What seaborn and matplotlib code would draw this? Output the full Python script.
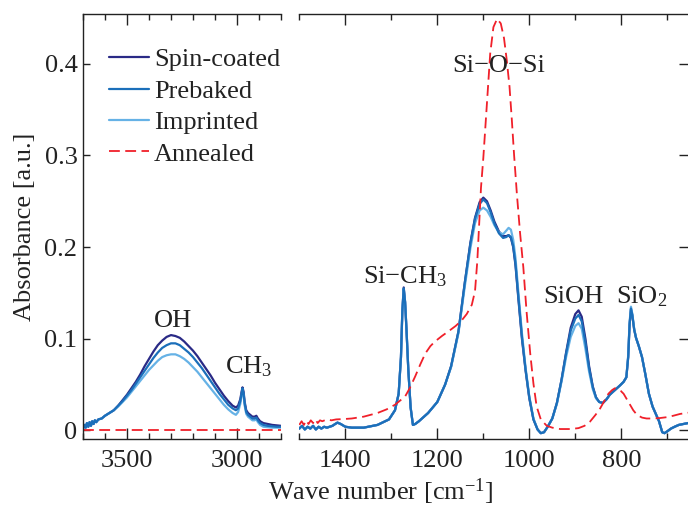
import matplotlib
matplotlib.use('Agg')
import matplotlib.pyplot as plt
import seaborn as sns
from matplotlib.ticker import MultipleLocator, FixedLocator

# ---------------- data ----------------
labels = ['Spin-coated', 'Prebaked', 'Imprinted', 'Annealed']
colors = {'Spin-coated': '#2a2a86', 'Prebaked': '#1b6fba',
          'Imprinted': '#66b2e6', 'Annealed': '#f0202a'}

# left panel (OH / CH3 region)
wn_oh = [3700, 3694, 3688, 3682, 3676, 3670, 3664, 3658, 3652, 3646,
         3640, 3630, 3615, 3600, 3580, 3560, 3540, 3520, 3500, 3480,
         3460, 3440, 3420, 3400, 3380, 3360, 3340, 3320, 3300, 3280,
         3260, 3240, 3220, 3200, 3180, 3160, 3140, 3120, 3100, 3080,
         3060, 3040, 3020, 3005, 2995, 2985, 2980, 2975, 2970, 2965,
         2958, 2950, 2940, 2930, 2920, 2912, 2905, 2895, 2880, 2860,
         2840, 2820, 2800]
spin_oh = [0.002, 0.006, 0.003, 0.008, 0.004, 0.009, 0.005, 0.010, 0.007, 0.011,
           0.009, 0.012, 0.013, 0.016, 0.019, 0.022, 0.027, 0.033, 0.039, 0.046,
           0.053, 0.061, 0.070, 0.078, 0.086, 0.093, 0.098, 0.102, 0.104, 0.103,
           0.101, 0.097, 0.092, 0.087, 0.081, 0.074, 0.067, 0.060, 0.052, 0.045,
           0.038, 0.032, 0.027, 0.025, 0.027, 0.034, 0.041, 0.047, 0.042, 0.031,
           0.022, 0.019, 0.017, 0.015, 0.015, 0.016, 0.013, 0.010, 0.008, 0.007,
           0.006, 0.0055, 0.005]
pre_oh = [0.002, 0.006, 0.003, 0.008, 0.004, 0.009, 0.005, 0.010, 0.007, 0.011,
          0.009, 0.012, 0.013, 0.016, 0.019, 0.022, 0.027, 0.032, 0.038, 0.044,
          0.051, 0.058, 0.065, 0.072, 0.079, 0.085, 0.090, 0.093, 0.095, 0.095,
          0.093, 0.089, 0.085, 0.080, 0.074, 0.068, 0.061, 0.054, 0.047, 0.040,
          0.034, 0.028, 0.024, 0.022, 0.024, 0.032, 0.039, 0.046, 0.040, 0.029,
          0.020, 0.017, 0.015, 0.013, 0.013, 0.014, 0.011, 0.008, 0.006, 0.005,
          0.0045, 0.004, 0.004]
imp_oh = [0.002, 0.006, 0.003, 0.008, 0.004, 0.009, 0.005, 0.010, 0.007, 0.011,
          0.009, 0.012, 0.013, 0.016, 0.019, 0.022, 0.026, 0.031, 0.036, 0.042,
          0.048, 0.054, 0.060, 0.066, 0.071, 0.076, 0.080, 0.082, 0.083, 0.083,
          0.081, 0.078, 0.074, 0.069, 0.064, 0.058, 0.052, 0.046, 0.040, 0.034,
          0.028, 0.023, 0.019, 0.017, 0.020, 0.029, 0.037, 0.044, 0.038, 0.027,
          0.018, 0.015, 0.013, 0.011, 0.011, 0.012, 0.009, 0.006, 0.004, 0.0035,
          0.003, 0.003, 0.003]
wn_oh_ann = [3700, 2800]
ann_oh = [0.0, 0.0]

# right panel (fingerprint region)
wn_si = [1500, 1494, 1488, 1482, 1476, 1470, 1464, 1458, 1452, 1446,
         1440, 1434, 1428, 1422, 1417, 1410, 1400, 1386, 1360, 1330,
         1305, 1292, 1284, 1279, 1276, 1273, 1270, 1267, 1263, 1258,
         1253, 1248, 1240, 1220, 1200, 1183, 1170, 1154, 1140, 1128,
         1118, 1108, 1100, 1092, 1084, 1076, 1066, 1057, 1050, 1045,
         1040, 1035, 1030, 1024, 1016, 1008, 1000, 991, 982, 975,
         968, 960, 950, 940, 930, 920, 910, 900, 893, 886,
         878, 870, 862, 855, 848, 840, 832, 825, 814, 803,
         795, 789, 785, 782, 779, 776, 772, 768, 762, 755,
         748, 740, 732, 725, 718, 711, 706, 700, 692, 684,
         675, 665, 655, 645]
spin_si = [0.002, 0.005, 0.001, 0.004, 0.002, 0.005, 0.001, 0.004, 0.002, 0.004,
           0.003, 0.004, 0.005, 0.007, 0.0085, 0.007, 0.004, 0.003, 0.003, 0.006,
           0.012, 0.022, 0.040, 0.080, 0.130, 0.156, 0.140, 0.110, 0.066, 0.025,
           0.006, 0.007, 0.010, 0.019, 0.031, 0.050, 0.070, 0.108, 0.162, 0.205,
           0.232, 0.249, 0.254, 0.250, 0.240, 0.228, 0.217, 0.212, 0.212, 0.213,
           0.210, 0.200, 0.180, 0.145, 0.100, 0.065, 0.035, 0.012, 0.001, -0.003,
           -0.002, 0.004, 0.013, 0.030, 0.055, 0.085, 0.112, 0.127, 0.131, 0.124,
           0.100, 0.070, 0.048, 0.036, 0.031, 0.030, 0.034, 0.039, 0.044, 0.049,
           0.053, 0.058, 0.080, 0.115, 0.132, 0.125, 0.110, 0.101, 0.092, 0.080,
           0.062, 0.040, 0.026, 0.018, 0.010, -0.002, -0.003, -0.001, 0.002, 0.004,
           0.006, 0.007, 0.008, 0.009]
pre_si = [0.002, 0.005, 0.001, 0.004, 0.002, 0.005, 0.001, 0.004, 0.002, 0.004,
          0.003, 0.004, 0.005, 0.007, 0.0085, 0.007, 0.004, 0.003, 0.003, 0.006,
          0.012, 0.022, 0.040, 0.080, 0.130, 0.155, 0.140, 0.110, 0.066, 0.025,
          0.006, 0.007, 0.010, 0.019, 0.031, 0.050, 0.070, 0.108, 0.162, 0.204,
          0.231, 0.247, 0.252, 0.248, 0.238, 0.226, 0.215, 0.210, 0.211, 0.213,
          0.211, 0.201, 0.182, 0.147, 0.102, 0.066, 0.036, 0.012, 0.001, -0.003,
          -0.002, 0.004, 0.013, 0.030, 0.055, 0.084, 0.109, 0.122, 0.126, 0.119,
          0.096, 0.068, 0.047, 0.036, 0.031, 0.030, 0.034, 0.039, 0.044, 0.049,
          0.053, 0.058, 0.080, 0.116, 0.133, 0.126, 0.110, 0.101, 0.092, 0.080,
          0.062, 0.040, 0.026, 0.018, 0.010, -0.002, -0.003, -0.001, 0.002, 0.004,
          0.006, 0.007, 0.008, 0.009]
imp_si = [0.002, 0.005, 0.001, 0.004, 0.002, 0.005, 0.001, 0.004, 0.002, 0.004,
          0.003, 0.004, 0.005, 0.007, 0.0085, 0.007, 0.004, 0.003, 0.003, 0.006,
          0.012, 0.022, 0.040, 0.080, 0.130, 0.154, 0.140, 0.110, 0.066, 0.025,
          0.006, 0.007, 0.010, 0.019, 0.031, 0.050, 0.069, 0.106, 0.158, 0.199,
          0.226, 0.240, 0.243, 0.240, 0.233, 0.224, 0.216, 0.214, 0.218, 0.221,
          0.219, 0.208, 0.188, 0.152, 0.106, 0.068, 0.037, 0.013, 0.001, -0.003,
          -0.002, 0.004, 0.013, 0.029, 0.053, 0.080, 0.102, 0.114, 0.117, 0.111,
          0.089, 0.064, 0.045, 0.035, 0.031, 0.030, 0.034, 0.039, 0.044, 0.049,
          0.053, 0.058, 0.082, 0.118, 0.135, 0.127, 0.111, 0.101, 0.092, 0.080,
          0.062, 0.040, 0.026, 0.018, 0.010, -0.002, -0.003, -0.001, 0.002, 0.004,
          0.006, 0.007, 0.008, 0.009]
wn_ann = [1500, 1495, 1490, 1485, 1480, 1475, 1470, 1465, 1460, 1455,
          1450, 1440, 1430, 1420, 1400, 1386, 1360, 1330, 1310, 1292,
          1270, 1260, 1248, 1237, 1226, 1215, 1205, 1190, 1176, 1160,
          1147, 1136, 1125, 1118, 1113, 1109, 1105, 1100, 1093, 1085,
          1078, 1070, 1062, 1055, 1049, 1043, 1038, 1033, 1027, 1020,
          1013, 1006, 998, 991, 984, 975, 962, 950, 933, 910,
          893, 880, 868, 856, 846, 837, 828, 820, 814, 808,
          801, 795, 788, 781, 774, 766, 755, 745, 730, 716,
          700, 687, 672, 658, 645]
ann_si = [0.006, 0.010, 0.006, 0.011, 0.007, 0.011, 0.008, 0.012, 0.008, 0.011,
          0.010, 0.012, 0.011, 0.012, 0.0125, 0.013, 0.015, 0.019, 0.023, 0.028,
          0.037, 0.046, 0.059, 0.072, 0.084, 0.092, 0.097, 0.103, 0.108, 0.114,
          0.120, 0.127, 0.137, 0.152, 0.185, 0.225, 0.265, 0.297, 0.350, 0.411,
          0.440, 0.449, 0.444, 0.428, 0.404, 0.375, 0.339, 0.300, 0.258, 0.215,
          0.178, 0.130, 0.084, 0.051, 0.026, 0.012, 0.005, 0.003, 0.0015, 0.0015,
          0.0025, 0.005, 0.0096, 0.017, 0.024, 0.032, 0.040, 0.044, 0.046, 0.045,
          0.043, 0.040, 0.034, 0.028, 0.022, 0.017, 0.014, 0.013, 0.013, 0.0135,
          0.0145, 0.016, 0.018, 0.019, 0.020]

y_ticks = [0.0, 0.1, 0.2, 0.3, 0.4]
y_tick_labels = ['0', '0.1', '0.2', '0.3', '0.4']
x1_major = [3500, 3000]
x2_major = [1400, 1200, 1000, 800]

# ---------------- style ----------------
sns.set_theme(style='ticks')
plt.rcParams['font.family'] = ['Liberation Serif', 'DejaVu Serif']
plt.rcParams['mathtext.fontset'] = 'custom'
plt.rcParams['mathtext.rm'] = 'Liberation Serif'
plt.rcParams['mathtext.it'] = 'Liberation Serif:italic'
plt.rcParams['mathtext.bf'] = 'Liberation Serif:bold'
plt.rcParams['axes.linewidth'] = 1.0
plt.rcParams['axes.edgecolor'] = '#222222'
plt.rcParams['xtick.color'] = '#222222'
plt.rcParams['ytick.color'] = '#222222'
TXT = '#222222'
FS = 19

W, H = 688, 509
fig = plt.figure(figsize=(W / 100, H / 100), dpi=100)


def box(x0, y0, x1, y1):
    return [x0 / W, 1 - y1 / H, (x1 - x0) / W, (y1 - y0) / H]


ax1 = fig.add_axes(box(83, 14.3, 281, 439.3))
ax2 = fig.add_axes(box(299.3, 14.3, 299.3 + 850 * 0.46, 439.3))

LW_BLUE = 1.6
LW_RED = 1.3

blue_sets = [('Spin-coated', spin_oh, spin_si),
             ('Imprinted', imp_oh, imp_si),
             ('Prebaked', pre_oh, pre_si)]
for name, y_oh, y_si in blue_sets:
    sns.lineplot(x=wn_oh, y=y_oh, ax=ax1, color=colors[name], lw=LW_BLUE,
                 sort=False, estimator=None, label=name)
    sns.lineplot(x=wn_si, y=y_si, ax=ax2, color=colors[name], lw=LW_BLUE,
                 sort=False, estimator=None, legend=False)

sns.lineplot(x=wn_oh_ann, y=ann_oh, ax=ax1, color=colors['Annealed'], lw=LW_RED,
             sort=False, estimator=None, label='Annealed')
ax1.lines[-1].set_dashes([6, 3])
sns.lineplot(x=wn_ann, y=ann_si, ax=ax2, color=colors['Annealed'], lw=LW_RED,
             sort=False, estimator=None, legend=False)
ax2.lines[-1].set_dashes([6, 3])

# ---------------- axes ----------------
YLIM = (-0.0097, 0.454)
ax1.set_xlim(3700, 2800)
ax2.set_xlim(1500, 650)
for ax in (ax1, ax2):
    ax.set_ylim(*YLIM)
    ax.set_xlabel('')
    ax.set_ylabel('')
    ax.xaxis.set_minor_locator(MultipleLocator(100))
    ax.tick_params(axis='x', which='both', direction='in', top=True, bottom=True,
                   labelsize=FS, pad=7.5, width=1.0, labelcolor=TXT)
    ax.tick_params(axis='x', which='major', length=8)
    ax.tick_params(axis='x', which='minor', length=4.3)

ax1.xaxis.set_major_locator(FixedLocator(x1_major))
ax2.xaxis.set_major_locator(FixedLocator(x2_major))

ax1.set_yticks(y_ticks)
ax1.set_yticklabels(y_tick_labels)
ax1.tick_params(axis='y', which='major', direction='in', left=True, right=False,
                length=4.7, width=1.0, labelsize=FS, pad=4, labelcolor=TXT)
ax1.spines['right'].set_visible(False)

ax2.set_yticks(y_ticks)
ax2.tick_params(axis='y', which='major', direction='in', left=False, right=True,
                labelleft=False, labelright=False, length=8, width=1.0)
ax2.spines['left'].set_visible(False)

# legend
handles, labs = ax1.get_legend_handles_labels()
order = [labs.index(l) for l in labels]
ax1.legend([handles[i] for i in order], [labs[i] for i in order],
           loc='upper left', bbox_to_anchor=(109 / W, 1 - 48 / H),
           bbox_transform=fig.transFigure, frameon=False, fontsize=FS,
           handlelength=1.5, handletextpad=0.2, borderpad=0, borderaxespad=0,
           labelspacing=0.3, labelcolor=TXT)

# annotations
ax1.text(3290, 0.113, 'OH', fontsize=FS, ha='center', va='baseline', color=TXT)
ax1.text(3055, 0.0624, r'CH$_\mathregular{3}$', fontsize=FS, ha='left', va='baseline', color=TXT)
ax2.text(1066, 0.391, 'Si\u2212O\u2212Si', fontsize=FS, ha='center', va='baseline', color=TXT)
ax2.text(1362, 0.1605, r'Si$-$CH$_\mathregular{3}$', fontsize=FS, ha='left', va='baseline', color=TXT)
ax2.text(905, 0.1387, 'SiOH', fontsize=FS, ha='center', va='baseline', color=TXT)
ax2.text(811, 0.1387, r'SiO$_\mathregular{2}$', fontsize=FS, ha='left', va='baseline', color=TXT)

# axis titles
fig.text(25 / W, 1 - 226.8 / H, 'Absorbance [a.u.]', rotation=90, fontsize=FS,
         ha='center', va='center', color=TXT)
fig.text(381 / W, 1 - 500 / H, r'Wave number [cm$^\mathregular{-1}$]', fontsize=FS,
         ha='center', va='baseline', color=TXT)

fig.savefig('out.png', dpi=100)
